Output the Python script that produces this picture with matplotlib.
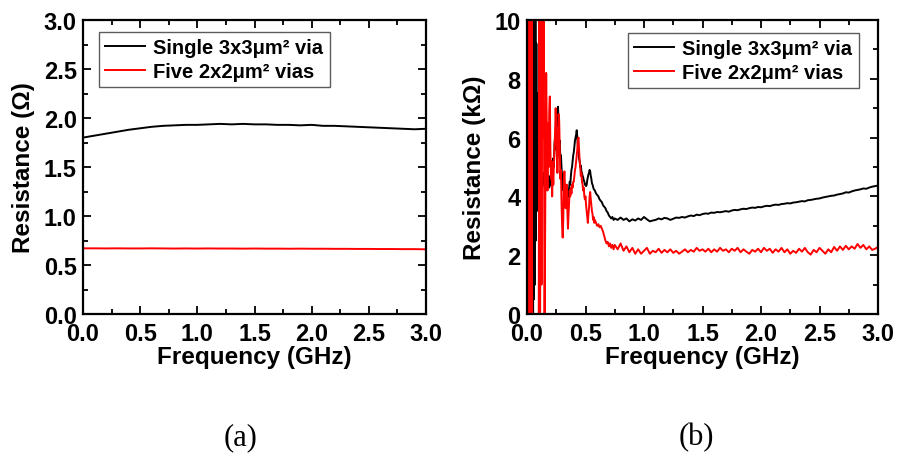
import matplotlib
matplotlib.use("Agg")
import matplotlib.pyplot as plt
from matplotlib.ticker import MultipleLocator

plt.rcParams['font.family'] = ['Liberation Sans', 'DejaVu Sans']
plt.rcParams['font.weight'] = 'bold'

# ---------------- Panel (a) data ----------------
freq_a = [0.0, 0.1, 0.2, 0.3, 0.4, 0.5, 0.6, 0.7, 0.8, 0.9, 1.0, 1.1, 1.2, 1.3, 1.4, 1.5,
          1.6, 1.7, 1.8, 1.9, 2.0, 2.1, 2.2, 2.3, 2.4, 2.5, 2.6, 2.7, 2.8, 2.9, 3.0]
res_a_single = [1.80, 1.82, 1.84, 1.86, 1.88, 1.895, 1.91, 1.92, 1.925, 1.93, 1.93, 1.935,
                1.94, 1.935, 1.94, 1.935, 1.935, 1.93, 1.93, 1.925, 1.93, 1.92, 1.92, 1.915,
                1.91, 1.905, 1.90, 1.895, 1.89, 1.885, 1.89]
res_a_five = [0.670, 0.670, 0.669, 0.670, 0.669, 0.669, 0.670, 0.669, 0.668, 0.669, 0.668,
              0.669, 0.668, 0.668, 0.667, 0.668, 0.667, 0.667, 0.666, 0.667, 0.666, 0.666,
              0.665, 0.665, 0.664, 0.664, 0.663, 0.663, 0.662, 0.662, 0.660]

# ---------------- Panel (b) data ----------------
freq_b_single_low = [0.000, 0.004, 0.008, 0.012, 0.016, 0.020, 0.024, 0.028, 0.032, 0.036,
                     0.040, 0.044, 0.048, 0.052, 0.056, 0.060, 0.064, 0.068, 0.072, 0.076,
                     0.080, 0.084, 0.088, 0.092, 0.096, 0.100, 0.105, 0.110, 0.115, 0.120,
                     0.125, 0.130, 0.135, 0.140, 0.145, 0.150, 0.155, 0.160, 0.165, 0.170,
                     0.175, 0.180, 0.185, 0.190, 0.195, 0.200, 0.205, 0.210, 0.215, 0.220,
                     0.225, 0.230, 0.235, 0.240, 0.245, 0.250, 0.255, 0.260, 0.265, 0.270,
                     0.275, 0.280, 0.285, 0.290, 0.295, 0.300, 0.305, 0.310, 0.315, 0.320,
                     0.325, 0.330, 0.335, 0.340, 0.345, 0.350, 0.355, 0.360, 0.365, 0.370,
                     0.375, 0.380, 0.385, 0.390, 0.395, 0.400, 0.405, 0.410, 0.415, 0.420,
                     0.425, 0.430, 0.435, 0.440, 0.445, 0.450, 0.455, 0.460, 0.465, 0.470,
                     0.475, 0.480, 0.485, 0.490, 0.495, 0.500, 0.505, 0.510, 0.515, 0.520,
                     0.525, 0.530, 0.535, 0.540, 0.545, 0.550, 0.555, 0.560, 0.570, 0.580,
                     0.590, 0.600, 0.610, 0.620, 0.630, 0.640, 0.650, 0.660, 0.670, 0.680,
                     0.690, 0.700, 0.710, 0.720, 0.730, 0.740]
res_b_single_low = [11, -1, 12, -1, 12, -1, 12, -1, 12, 0,
                    11, -1, 11, 0, 11, 0.5, 10.5, 1.0, 10, 2.5,
                    9.2, 3.5, 7.5, 4.0, 5.2, 4.6, 5.0, 4.5, 4.7, 4.4,
                    4.6, 4.3, 4.6, 4.5, 4.8, 4.4, 4.6, 5.3, 4.9, 5.2,
                    4.6, 4.5, 4.7, 4.3, 4.5, 4.4, 4.6, 4.4, 4.8, 4.6,
                    5.3, 5.0, 5.8, 6.0, 5.6, 6.6, 6.9, 6.4, 7.05, 6.5,
                    5.8, 5.9, 5.3, 5.4, 5.0, 4.7, 4.5, 4.2, 4.4, 4.0,
                    3.8, 4.1, 3.6, 3.7, 3.9, 4.1, 4.0, 4.3, 4.5, 4.4,
                    4.7, 4.9, 5.0, 5.2, 5.4, 5.5, 5.7, 5.9, 6.0, 6.1,
                    6.25, 6.0, 5.7, 5.5, 5.3, 5.2, 5.0, 5.05, 4.85, 4.8,
                    4.7, 4.65, 4.55, 4.5, 4.4, 4.4, 4.35, 4.4, 4.55, 4.65,
                    4.75, 4.8, 4.9, 4.85, 4.7, 4.6, 4.45, 4.4, 4.25, 4.2,
                    4.1, 4.05, 4.0, 3.9, 3.85, 3.8, 3.7, 3.65, 3.6, 3.5,
                    3.45, 3.35, 3.3, 3.25, 3.3, 3.2]

freq_b_five_low = [0.000, 0.004, 0.008, 0.012, 0.016, 0.020, 0.024, 0.028, 0.032, 0.036,
                   0.040, 0.044, 0.100, 0.106, 0.112, 0.118, 0.124, 0.130, 0.136, 0.142,
                   0.150, 0.158, 0.164, 0.170, 0.175, 0.180, 0.185, 0.190, 0.195, 0.200,
                   0.205, 0.210, 0.215, 0.220, 0.225, 0.230, 0.235, 0.240, 0.245, 0.250,
                   0.255, 0.260, 0.265, 0.270, 0.275, 0.280, 0.285, 0.290, 0.295, 0.300,
                   0.305, 0.310, 0.315, 0.320, 0.325, 0.330, 0.335, 0.340, 0.345, 0.350,
                   0.355, 0.360, 0.365, 0.370, 0.375, 0.380, 0.385, 0.390, 0.395, 0.400,
                   0.405, 0.410, 0.415, 0.420, 0.425, 0.430, 0.435, 0.440, 0.445, 0.450,
                   0.455, 0.460, 0.465, 0.470, 0.475, 0.480, 0.485, 0.490, 0.495, 0.500,
                   0.505, 0.510, 0.515, 0.520, 0.525, 0.530, 0.535, 0.540, 0.545, 0.550,
                   0.555, 0.560, 0.565, 0.570, 0.575, 0.580, 0.590, 0.600, 0.610, 0.620,
                   0.630, 0.640, 0.650, 0.660, 0.670, 0.680, 0.690, 0.700, 0.710, 0.720,
                   0.730, 0.740]
res_b_five_low = [11, -1, 12, -1, 11, -1, 12, -1, 11, -1,
                  11, -1, -1, 12, -1, 12, 1, 12, 6, 12,
                  -1, 5.0, 8.2, 6.0, 4.2, 6.5, 5.0, 6.9, 7.4, 5.6,
                  4.6, 5.2, 4.0, 4.9, 4.4, 5.1, 5.6, 6.2, 7.0, 6.4,
                  5.5, 4.8, 5.5, 6.8, 6.6, 5.6, 4.6, 4.9, 3.8, 3.0,
                  2.6, 3.2, 4.6, 4.85, 4.3, 3.6, 4.2, 4.4, 3.5, 2.9,
                  3.4, 3.8, 4.2, 4.0, 4.3, 4.1, 4.4, 4.3, 4.5, 4.5,
                  4.7, 4.9, 5.0, 5.2, 5.4, 5.6, 5.9, 6.0, 5.6, 5.2,
                  5.0, 4.7, 4.8, 4.5, 4.4, 4.2, 4.3, 4.0, 3.9, 4.0,
                  3.7, 3.5, 3.3, 3.1, 3.4, 3.6, 4.0, 4.15, 3.9, 3.7,
                  3.5, 3.4, 3.2, 3.3, 3.1, 3.2, 3.1, 3.0, 3.05, 2.95,
                  3.0, 2.9, 2.8, 2.65, 2.5, 2.4, 2.45, 2.3, 2.4, 2.25,
                  2.35, 2.2]

freq_b_high = [0.750, 0.775, 0.800, 0.825, 0.850, 0.875, 0.900, 0.925, 0.950, 0.975,
               1.000, 1.025, 1.050, 1.075, 1.100, 1.125, 1.150, 1.175, 1.200, 1.225,
               1.250, 1.275, 1.300, 1.325, 1.350, 1.375, 1.400, 1.425, 1.450, 1.475,
               1.500, 1.525, 1.550, 1.575, 1.600, 1.625, 1.650, 1.675, 1.700, 1.725,
               1.750, 1.775, 1.800, 1.825, 1.850, 1.875, 1.900, 1.925, 1.950, 1.975,
               2.000, 2.025, 2.050, 2.075, 2.100, 2.125, 2.150, 2.175, 2.200, 2.225,
               2.250, 2.275, 2.300, 2.325, 2.350, 2.375, 2.400, 2.425, 2.450, 2.475,
               2.500, 2.525, 2.550, 2.575, 2.600, 2.625, 2.650, 2.675, 2.700, 2.725,
               2.750, 2.775, 2.800, 2.825, 2.850, 2.875, 2.900, 2.925, 2.950, 2.975,
               3.000]
res_b_single_high = [3.25, 3.2, 3.28, 3.2, 3.25, 3.15, 3.22, 3.18, 3.25, 3.2,
                     3.3, 3.22, 3.15, 3.18, 3.2, 3.25, 3.22, 3.27, 3.25, 3.2,
                     3.24, 3.28, 3.27, 3.3, 3.28, 3.32, 3.35, 3.33, 3.38, 3.36,
                     3.4, 3.42, 3.41, 3.45, 3.44, 3.47, 3.46, 3.48, 3.5, 3.48,
                     3.52, 3.54, 3.53, 3.56, 3.58, 3.57, 3.6, 3.62, 3.61, 3.64,
                     3.63, 3.66, 3.68, 3.67, 3.7, 3.72, 3.71, 3.74, 3.75, 3.77,
                     3.76, 3.79, 3.8, 3.82, 3.84, 3.83, 3.87, 3.88, 3.9, 3.92,
                     3.93, 3.96, 3.98, 4.0, 4.02, 4.03, 4.06, 4.08, 4.1, 4.14,
                     4.13, 4.17, 4.2, 4.22, 4.24, 4.27, 4.26, 4.3, 4.33, 4.35,
                     4.37]
res_b_five_high = [2.35, 2.2, 2.4, 2.15, 2.3, 2.1, 2.25, 2.05, 2.2, 2.05,
                   2.15, 2.25, 2.05, 2.15, 2.1, 2.22, 2.08, 2.18, 2.1, 2.2,
                   2.08, 2.15, 2.05, 2.12, 2.2, 2.1, 2.18, 2.12, 2.25, 2.15,
                   2.2, 2.12, 2.22, 2.1, 2.2, 2.12, 2.25, 2.15, 2.2, 2.1,
                   2.22, 2.15, 2.25, 2.1, 2.2, 2.12, 2.05, 2.18, 2.12, 2.22,
                   2.1, 2.25, 2.15, 2.22, 2.08, 2.2, 2.12, 2.25, 2.1, 2.2,
                   2.05, 2.15, 2.08, 2.22, 2.12, 2.25, 2.1, 2.02, 2.18, 2.1,
                   2.25, 2.15, 2.05, 2.2, 2.1, 2.28, 2.15, 2.3, 2.18, 2.32,
                   2.2, 2.3, 2.22, 2.38, 2.25, 2.35, 2.2, 2.3, 2.18, 2.22,
                   2.28]

label_single = "Single 3x3\u03bcm\u00b2 via"
label_five = "Five 2x2\u03bcm\u00b2 vias"

xticks = [0.0, 0.5, 1.0, 1.5, 2.0, 2.5, 3.0]

fig = plt.figure(figsize=(8.98, 4.60), dpi=100)
W, H = 898.0, 460.0
ax1 = fig.add_axes([83 / W, 1 - 315 / H, (426 - 83) / W, (315 - 21) / H])
ax2 = fig.add_axes([527 / W, 1 - 315 / H, (878 - 527) / W, (315 - 21) / H])

tick_fs = 17
lab_fs = 17.5
leg_fs = 14.5

def style(ax):
    for s in ax.spines.values():
        s.set_linewidth(1.6)
    ax.tick_params(which='both', direction='in', top=True, right=True, width=1.3,
                   labelsize=tick_fs)
    ax.tick_params(which='major', length=6)
    ax.tick_params(which='minor', length=3.5)
    ax.tick_params(axis='y', pad=4.5)
    ax.tick_params(axis='x', pad=5.5)
    for lab in ax.get_xticklabels() + ax.get_yticklabels():
        lab.set_fontweight('bold')

# Panel a
ax1.plot(freq_a, res_a_single, color='black', lw=1.4, label=label_single)
ax1.plot(freq_a, res_a_five, color='red', lw=1.4, label=label_five)
ax1.set_xlim(0, 3.0)
ax1.set_ylim(0, 3.0)
ax1.set_xticks(xticks)
ax1.set_yticks([0.0, 0.5, 1.0, 1.5, 2.0, 2.5, 3.0])
ax1.xaxis.set_minor_locator(MultipleLocator(0.25))
ax1.yaxis.set_minor_locator(MultipleLocator(0.25))
ax1.xaxis.set_major_formatter(plt.FormatStrFormatter('%.1f'))
ax1.yaxis.set_major_formatter(plt.FormatStrFormatter('%.1f'))
style(ax1)
ax1.set_xlabel("Frequency (GHz)", fontsize=lab_fs, fontweight='bold', labelpad=0)
ax1.set_ylabel("Resistance (\u03a9)", fontsize=lab_fs, fontweight='bold', labelpad=6)

# Panel b
ax2.plot(freq_b_single_low + freq_b_high, res_b_single_low + res_b_single_high,
         color='black', lw=1.4, label=label_single)
ax2.plot(freq_b_five_low + freq_b_high, res_b_five_low + res_b_five_high,
         color='red', lw=1.4, label=label_five)
ax2.set_xlim(0, 3.0)
ax2.set_ylim(0, 10)
ax2.set_xticks(xticks)
ax2.set_yticks([0, 2, 4, 6, 8, 10])
ax2.xaxis.set_minor_locator(MultipleLocator(0.25))
ax2.yaxis.set_minor_locator(MultipleLocator(1))
ax2.xaxis.set_major_formatter(plt.FormatStrFormatter('%.1f'))
style(ax2)
ax2.set_xlabel("Frequency (GHz)", fontsize=lab_fs, fontweight='bold', labelpad=0)
ax2.set_ylabel("Resistance (k\u03a9)", fontsize=lab_fs, fontweight='bold', labelpad=6)

for ax, x0, y0 in [(ax1, 0.047, 0.959), (ax2, 0.288, 0.956)]:
    leg = ax.legend(loc='upper left', bbox_to_anchor=(x0, y0), borderaxespad=0,
                    fontsize=leg_fs, frameon=True, fancybox=False, handlelength=2.0,
                    handletextpad=0.4, labelspacing=0.25, borderpad=0.3)
    leg.get_frame().set_edgecolor('#333333')
    leg.get_frame().set_linewidth(1.0)
    for t in leg.get_texts():
        t.set_fontweight('bold')

fig.text(241 / W, 1 - 438 / H, "(a)", family='Liberation Serif', fontweight='normal',
         fontsize=22, ha='center', va='center')
fig.text(696 / W, 1 - 438 / H, "(b)", family='Liberation Serif', fontweight='normal',
         fontsize=22, ha='center', va='center')

fig.savefig("out.png", dpi=100)
